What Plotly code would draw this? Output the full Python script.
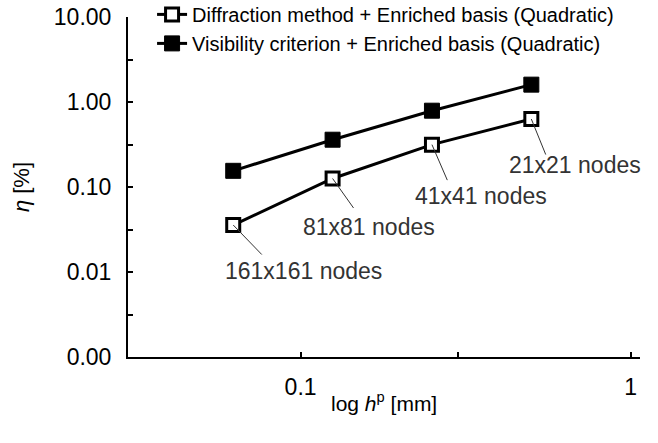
import numpy as np
import plotly.graph_objects as go

# Element size h^p [mm] for each mesh
mesh_labels = ["161x161 nodes", "81x81 nodes", "41x41 nodes", "21x21 nodes"]
h_mm = [0.0625, 0.125, 0.25, 0.5]

# Error eta [%]
eta_diffraction = [0.0357, 0.126, 0.315, 0.63]
eta_visibility = [0.155, 0.36, 0.79, 1.60]

name_diffraction = "Diffraction method + Enriched basis (Quadratic)"
name_visibility = "Visibility criterion + Enriched basis (Quadratic)"

x_title = "log <i>h</i><sup>p</sup> [mm]"
y_title = "<i>η</i> [%]"

# Axis ticks (log scale): labelled majors and unlabelled minors
y_tick_vals = [0.001, 0.01, 0.1, 1, 10]
y_tick_text = ["0.00", "0.01", "0.10", "1.00", "10.00"]
y_minor_vals = [10 ** -2.5, 10 ** -1.5, 10 ** -0.5, 10 ** 0.5]
x_tick_vals = [0.1, 1]
x_tick_text = ["0.1", "1"]
x_minor_vals = [0.3]

# Leader line ends and label centres, as pixel offsets from each point (y down)
leader_offsets = [(30, 31), (22, 31), (16, 37), (15, 37)]
label_offsets = [(70, 46), (36, 49), (49, 51), (44, 46)]

FONT = "Liberation Sans, Arial, Helvetica, sans-serif"

fig = go.Figure()
fig.add_trace(go.Scatter(
    x=h_mm, y=eta_diffraction, mode="lines+markers", name=name_diffraction,
    line=dict(color="black", width=3),
    marker=dict(symbol="square", size=13, color="white",
                line=dict(color="black", width=3)),
))
fig.add_trace(go.Scatter(
    x=h_mm, y=eta_visibility, mode="lines+markers", name=name_visibility,
    line=dict(color="black", width=3),
    marker=dict(symbol="square", size=15, color="black",
                line=dict(color="black", width=1)),
))

# Mesh labels with thin leader lines to the diffraction-method points
for lab, hx, ey, (lx, ly), (tx, ty) in zip(mesh_labels, h_mm, eta_diffraction,
                                          leader_offsets, label_offsets):
    fig.add_annotation(
        x=np.log10(hx), y=np.log10(ey), xref="x", yref="y", text="",
        showarrow=True, arrowhead=0, arrowwidth=1, arrowcolor="#333333",
        ax=lx, ay=ly, standoff=0, startstandoff=0,
    )
    fig.add_annotation(
        x=np.log10(hx), y=np.log10(ey), xref="x", yref="y", text=lab,
        showarrow=False, xanchor="center", yanchor="middle",
        xshift=tx, yshift=-ty,
        font=dict(family=FONT, size=23, color="#333333"),
    )

# x-axis title, set close under the tick labels
fig.add_annotation(
    x=0.5, y=0, xref="paper", yref="paper", text=x_title,
    showarrow=False, xanchor="center", yanchor="middle", yshift=-45,
    font=dict(family=FONT, size=21, color="black"),
)

tick_style = dict(ticks="inside", ticklen=5, tickwidth=2, tickcolor="black")

fig.update_layout(
    width=658, height=443,
    margin=dict(l=128, r=18, t=17, b=86, autoexpand=False),
    paper_bgcolor="white", plot_bgcolor="white",
    font=dict(family=FONT, color="black"),
    showlegend=True,
    legend=dict(
        x=0.047, y=1.065, xanchor="left", yanchor="top",
        bgcolor="rgba(0,0,0,0)", font=dict(family=FONT, size=20, color="black"),
        tracegroupgap=0,
    ),
    xaxis=dict(
        type="log", range=[np.log10(0.03), np.log10(1.067)],
        tickvals=x_tick_vals, ticktext=x_tick_text,
        minor=dict(tickvals=x_minor_vals, showgrid=False, **tick_style),
        showline=True, linewidth=2, linecolor="black",
        showgrid=False, zeroline=False,
        tickfont=dict(family=FONT, size=23, color="black"),
        ticklabelstandoff=8,
        **tick_style,
    ),
    yaxis=dict(
        type="log", range=[-3, 1],
        tickvals=y_tick_vals, ticktext=y_tick_text,
        minor=dict(tickvals=y_minor_vals, showgrid=False, **tick_style),
        showline=True, linewidth=2, linecolor="black",
        showgrid=False, zeroline=False,
        tickfont=dict(family=FONT, size=23, color="black"),
        ticklabelstandoff=10,
        title=dict(text=y_title, standoff=18,
                   font=dict(family=FONT, size=22, color="black")),
        **tick_style,
    ),
)

fig.write_html("out.html")
